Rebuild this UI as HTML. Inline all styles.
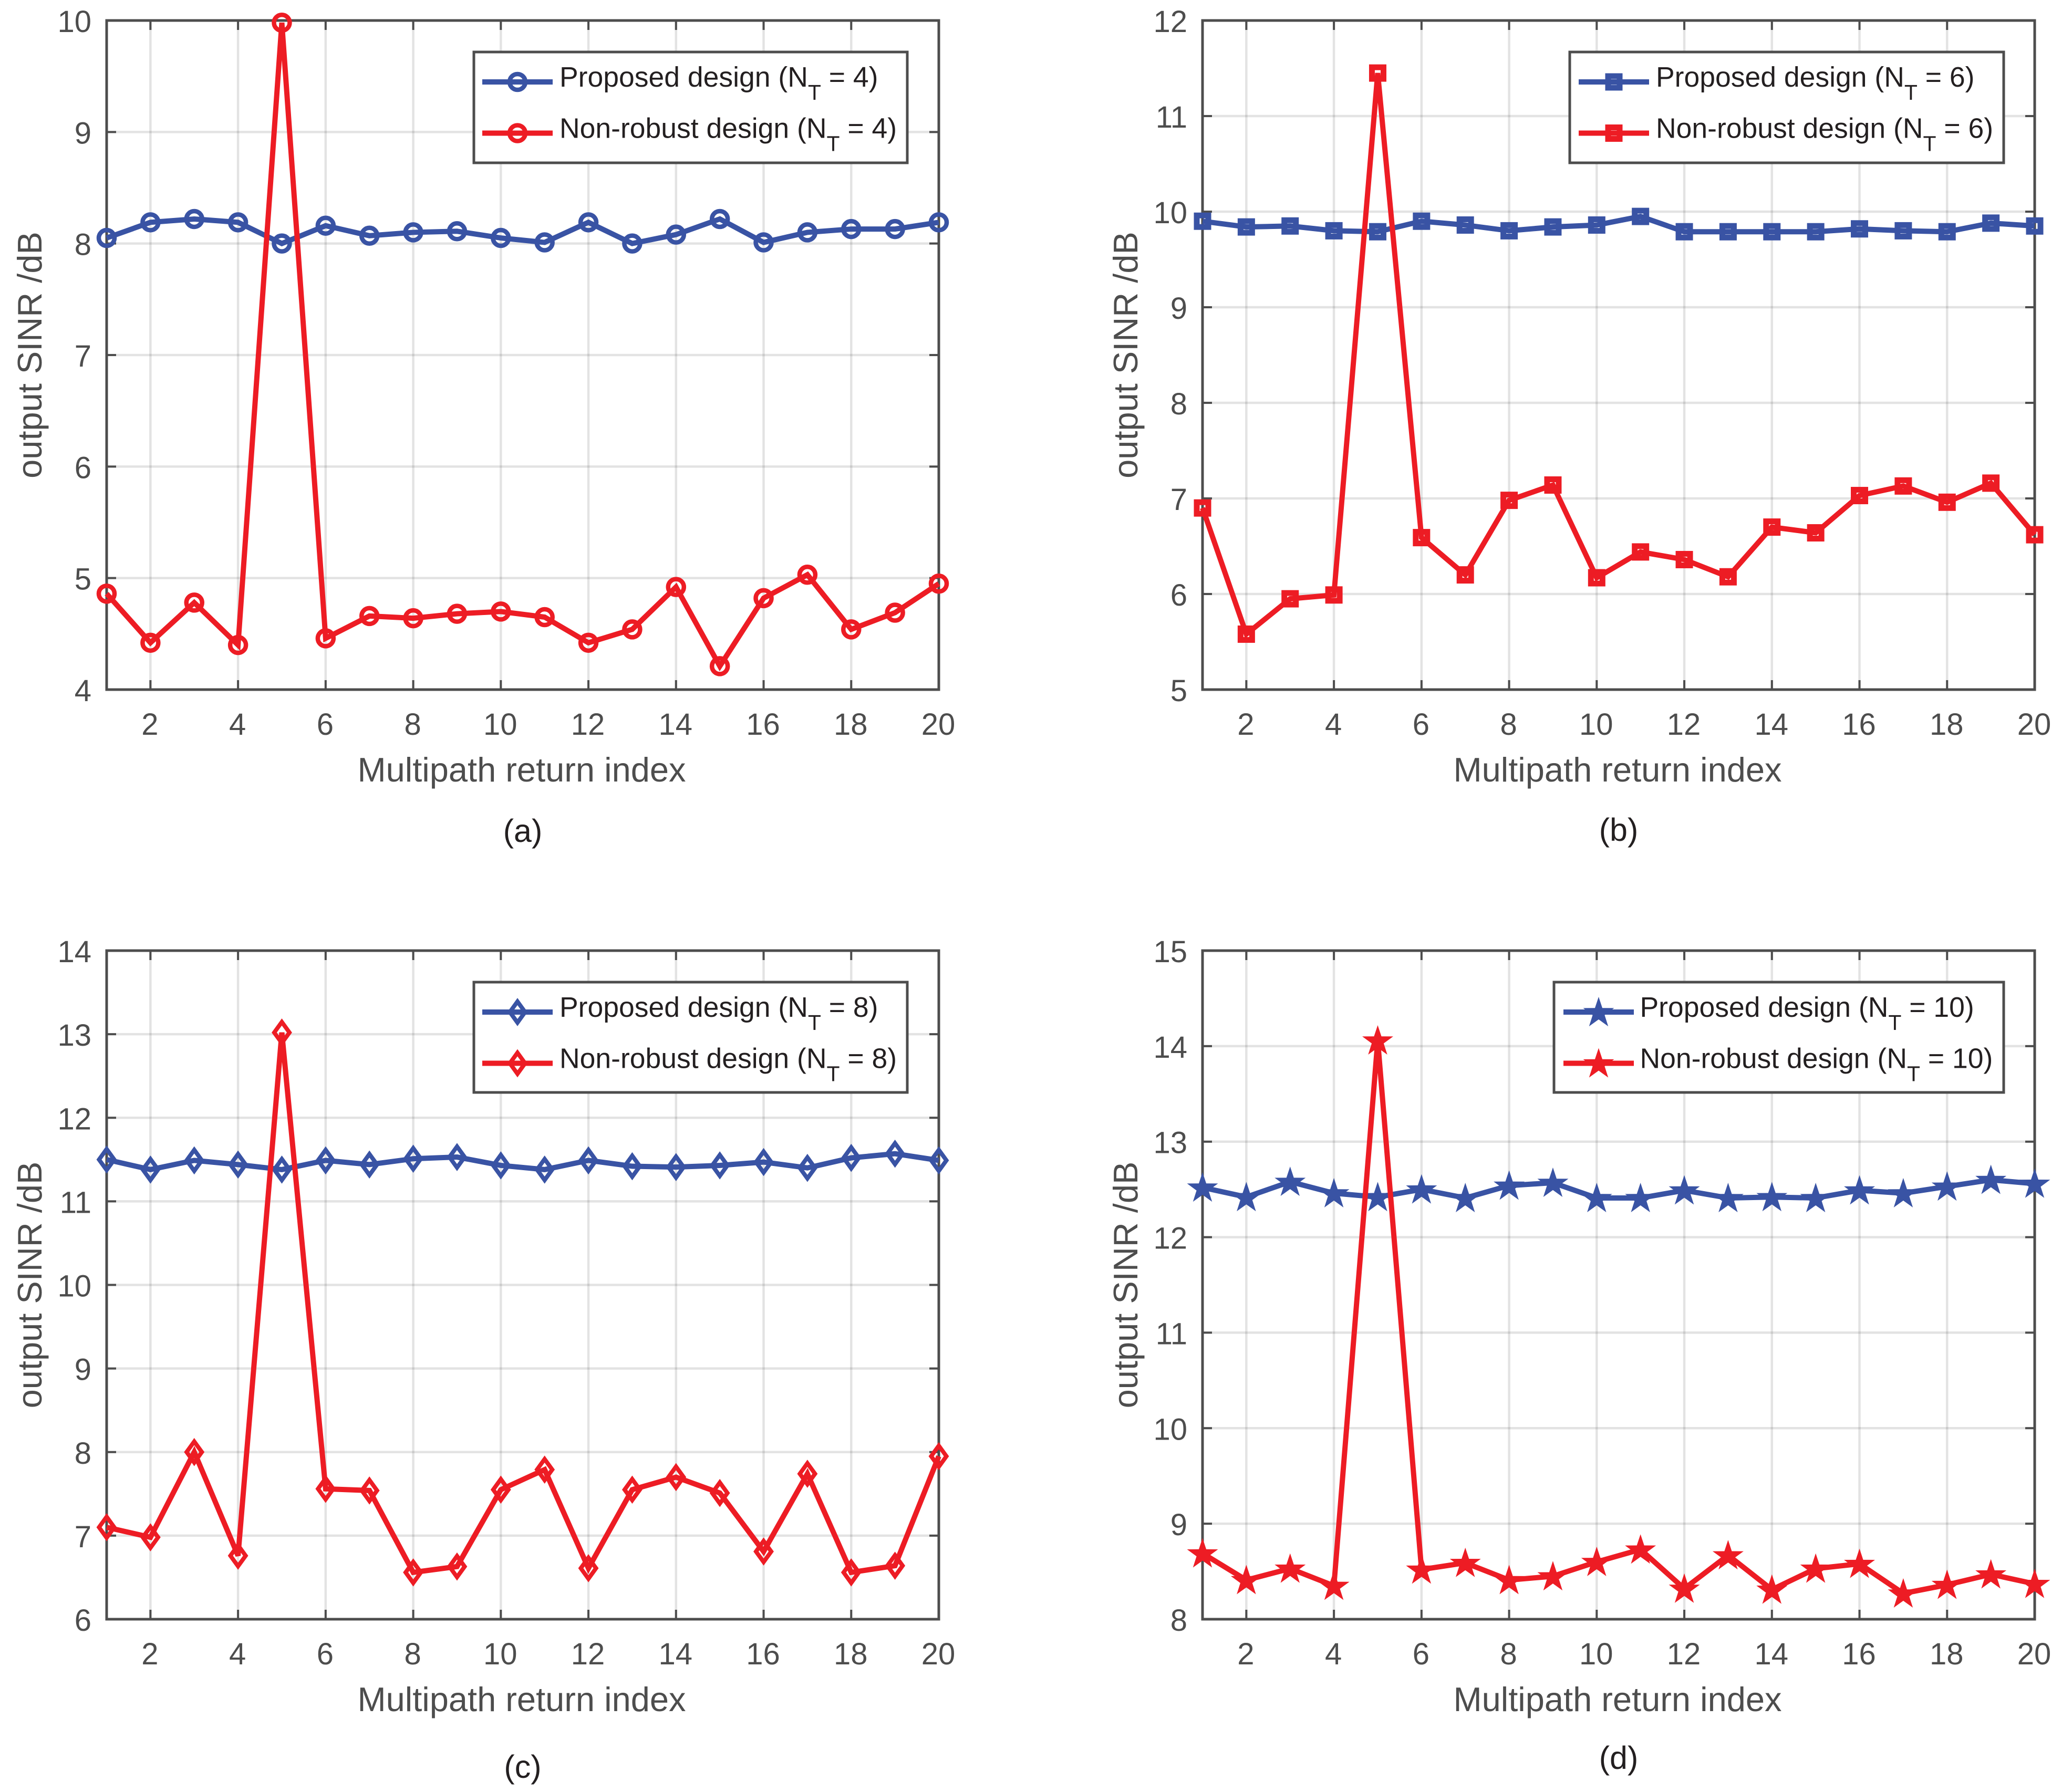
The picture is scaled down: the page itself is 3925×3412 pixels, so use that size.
<!DOCTYPE html>
<html lang="en">
<head>
<meta charset="utf-8">
<title>Output SINR versus multipath return index</title>
<style>
html,body{margin:0;padding:0;background:#fff;}
svg{display:block;font-family:"Liberation Sans",Arial,sans-serif;}
</style>
</head>
<body>
<svg id="figure" xmlns="http://www.w3.org/2000/svg" width="3925" height="3412" viewBox="0 0 3925 3412"></svg>
<script>
const indexTicks = [2,4,6,8,10,12,14,16,18,20];

const yTicksA = [4,5,6,7,8,9,10];
const proposedA = [8.05,8.19,8.22,8.19,8.00,8.16,8.07,8.10,8.11,8.05,8.01,8.19,8.00,8.08,8.22,8.01,8.10,8.13,8.13,8.19];
const nonRobustA = [4.86,4.42,4.78,4.40,9.98,4.46,4.66,4.64,4.68,4.70,4.65,4.42,4.54,4.92,4.21,4.82,5.03,4.54,4.69,4.95];

const yTicksB = [5,6,7,8,9,10,11,12];
const proposedB = [9.90,9.84,9.85,9.80,9.79,9.90,9.86,9.80,9.84,9.86,9.95,9.79,9.79,9.79,9.79,9.82,9.80,9.79,9.88,9.85];
const nonRobustB = [6.90,5.58,5.95,5.99,11.45,6.59,6.20,6.98,7.14,6.17,6.44,6.36,6.18,6.70,6.64,7.03,7.13,6.96,7.16,6.62];

const yTicksC = [6,7,8,9,10,11,12,13,14];
const proposedC = [11.50,11.38,11.49,11.44,11.38,11.49,11.44,11.51,11.53,11.43,11.38,11.49,11.42,11.41,11.43,11.47,11.40,11.52,11.57,11.49];
const nonRobustC = [7.10,6.98,8.00,6.76,13.02,7.56,7.54,6.56,6.63,7.55,7.79,6.61,7.55,7.70,7.51,6.81,7.74,6.56,6.64,7.95];

const yTicksD = [8,9,10,11,12,13,14,15];
const proposedD = [12.52,12.42,12.58,12.46,12.42,12.50,12.41,12.54,12.57,12.41,12.41,12.49,12.41,12.42,12.41,12.49,12.46,12.53,12.60,12.56];
const nonRobustD = [8.69,8.41,8.53,8.35,14.06,8.52,8.59,8.41,8.45,8.60,8.73,8.32,8.67,8.31,8.53,8.58,8.27,8.36,8.47,8.37];

const BLUE = '#3953a4', RED = '#ed1c24', AXIS = '#4d4d4d', INK = '#231f20';
const svg = document.getElementById('figure');

function mk(tag, attrs, parent, text) {
  const e = document.createElementNS('http://www.w3.org/2000/svg', tag);
  for (const k in attrs) e.setAttribute(k, attrs[k]);
  if (text !== undefined) e.textContent = text;
  parent.appendChild(e);
  return e;
}

function drawMarker(kind, cx, cy, color, parent) {
  let m;
  if (kind === 'circle') {
    m = mk('circle', {cx: cx, cy: cy, r: 15, fill: 'none', stroke: color, 'stroke-width': 8.5}, parent);
  } else if (kind === 'square') {
    m = mk('rect', {x: cx - 11, y: cy - 11, width: 22, height: 22, fill: 'none', stroke: color, 'stroke-width': 11}, parent);
  } else if (kind === 'diamond') {
    const pts = [[0,-20],[14.5,0],[0,20],[-14.5,0]].map(p => (cx + p[0]) + ',' + (cy + p[1])).join(' ');
    m = mk('polygon', {points: pts, fill: 'none', stroke: color, 'stroke-width': 8, 'stroke-miterlimit': 10}, parent);
  } else {
    const pts = [];
    for (let i = 0; i < 10; i++) {
      const rad = i % 2 ? 12 : 31;
      const a = -Math.PI / 2 + i * Math.PI / 5;
      pts.push((cx + rad * Math.cos(a)) + ',' + (cy + 2 + rad * Math.sin(a)));
    }
    m = mk('polygon', {points: pts.join(' '), fill: color}, parent);
  }
  return m;
}

function drawPanel(p) {
  const L = p.left, R = p.left + 1584, T = p.top, B = p.bottom;
  const g = mk('g', {}, svg);
  
  

  const yMin = p.yTicks[0], yMax = p.yTicks[p.yTicks.length - 1];
  const xScale = v => L + (v - 1) * (R - L) / 19;
  const yScale = v => B - (v - yMin) * (B - T) / (yMax - yMin);

  // grid
  indexTicks.forEach(v => {
    const line = mk('line', {x1: xScale(v), x2: xScale(v), y1: T, y2: B, stroke: '#000', 'stroke-opacity': 0.11, 'stroke-width': 4.5}, g);
    
    
  });
  p.yTicks.forEach(v => {
    const line = mk('line', {x1: L, x2: R, y1: yScale(v), y2: yScale(v), stroke: '#000', 'stroke-opacity': 0.11, 'stroke-width': 4.5}, g);
    
    
  });

  // ticks and tick labels
  indexTicks.forEach(v => {
    const x = xScale(v);
    const t1 = mk('line', {x1: x, x2: x, y1: B, y2: B - 18, stroke: AXIS, 'stroke-width': 4}, g);
    
    
    const t2 = mk('line', {x1: x, x2: x, y1: T, y2: T + 18, stroke: AXIS, 'stroke-width': 4}, g);
    
    
    const label = mk('text', {x: x - 1, y: B + 86, 'text-anchor': 'middle', 'font-size': 58, fill: AXIS}, g, String(v));
    
    
  });
  p.yTicks.forEach(v => {
    const y = yScale(v);
    const t1 = mk('line', {x1: L, x2: L + 18, y1: y, y2: y, stroke: AXIS, 'stroke-width': 4}, g);
    
    
    const t2 = mk('line', {x1: R, x2: R - 18, y1: y, y2: y, stroke: AXIS, 'stroke-width': 4}, g);
    
    
    const label = mk('text', {x: L - 29, y: y + 22, 'text-anchor': 'end', 'font-size': 58, fill: AXIS}, g, String(v));
    
    
  });

  // axes box
  const box = mk('rect', {x: L, y: T, width: R - L, height: B - T, fill: 'none', stroke: AXIS, 'stroke-width': 5}, g);
  
  

  // axis titles
  const xt = mk('text', {x: (L + R) / 2 - 2, y: B + 175, 'text-anchor': 'middle', 'font-size': 65, fill: AXIS}, g, 'Multipath return index');
  
  
  const yMid = (T + B) / 2;
  const yt = mk('text', {x: L - 124, y: yMid, 'text-anchor': 'middle', 'font-size': 65, fill: AXIS, transform: 'rotate(-90 ' + (L - 124) + ' ' + yMid + ')'}, g, 'output SINR /dB');
  
  

  // series
  [[p.blue, BLUE, 'proposed'], [p.red, RED, 'non-robust']].forEach(s => {
    const sg = mk('g', {}, g);
    
    
    const pts = s[0].map((v, i) => xScale(i + 1) + ',' + yScale(v)).join(' ');
    const line = mk('polyline', {points: pts, fill: 'none', stroke: s[1], 'stroke-width': 10, 'stroke-linejoin': 'miter', 'stroke-miterlimit': 4}, sg);
    
    
    s[0].forEach((v, i) => {
      const m = drawMarker(p.marker, xScale(i + 1), yScale(v), s[1], sg);
      
      
    });
  });

  // legend
  const lg = mk('g', {}, g);
  
  
  const lb = p.legend;
  const frame = mk('rect', {x: lb.x0, y: lb.y0, width: lb.x1 - lb.x0, height: lb.y1 - lb.y0, fill: '#fff', stroke: AXIS, 'stroke-width': 5}, lg);
  
  
  [['Proposed design', BLUE, lb.y0 + 57, 'legend-entry-proposed'], ['Non-robust design', RED, lb.y0 + 154.5, 'legend-entry-non-robust']].forEach(row => {
    const rg = mk('g', {}, lg);
    
    
    const sw = mk('line', {x1: lb.lx0, x2: lb.lx0 + 134, y1: row[2], y2: row[2], stroke: row[1], 'stroke-width': 10}, rg);
    
    
    const mm = drawMarker(p.marker, lb.lx0 + 67, row[2], row[1], rg);
    
    
    const tx = mk('text', {x: lb.tx - 2, y: row[2] + 9, 'font-size': 53.5, fill: INK}, rg);
    
    
    mk('tspan', {}, tx, row[0] + ' (N');
    mk('tspan', {dy: 25, 'font-size': 41}, tx, 'T');
    mk('tspan', {dy: -25}, tx, ' = ' + p.nt + ')');
  });

  // caption
  const cap = mk('text', {x: (L + R) / 2, y: p.captionY, 'text-anchor': 'middle', 'font-size': 61, fill: INK}, g, '(' + p.id + ')');
  
  
}

drawPanel({id: 'a', nt: 4, marker: 'circle', left: 203, top: 39, bottom: 1313, yTicks: yTicksA, blue: proposedA, red: nonRobustA, captionY: 1603,
  legend: {x0: 902, x1: 1727, y0: 99, y1: 310, lx0: 918, tx: 1067}});
drawPanel({id: 'b', nt: 6, marker: 'square', left: 2289, top: 39, bottom: 1313, yTicks: yTicksB, blue: proposedB, red: nonRobustB, captionY: 1601,
  legend: {x0: 2988, x1: 3814, y0: 99, y1: 310, lx0: 3005, tx: 3154}});
drawPanel({id: 'c', nt: 8, marker: 'diamond', left: 203, top: 1810, bottom: 3083, yTicks: yTicksC, blue: proposedC, red: nonRobustC, captionY: 3385,
  legend: {x0: 902, x1: 1727, y0: 1870, y1: 2080, lx0: 918, tx: 1067}});
drawPanel({id: 'd', nt: 10, marker: 'star', left: 2289, top: 1810, bottom: 3083, yTicks: yTicksD, blue: proposedD, red: nonRobustD, captionY: 3368,
  legend: {x0: 2958, x1: 3814, y0: 1870, y1: 2080, lx0: 2976, tx: 3123.5}});
</script>
</body>
</html>
